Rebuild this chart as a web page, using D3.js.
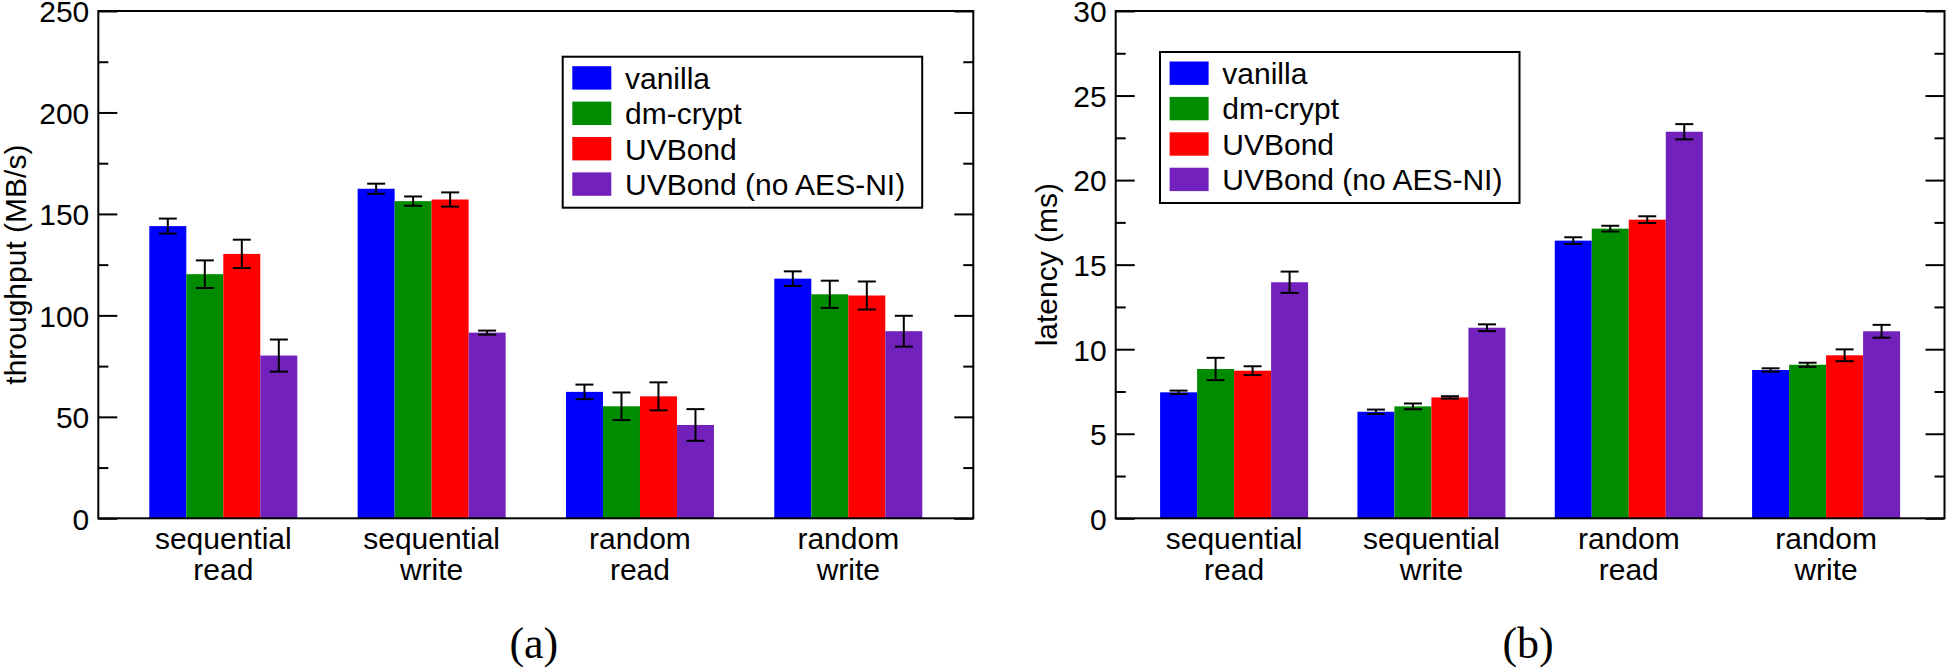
<!DOCTYPE html>
<html><head><meta charset="utf-8">
<script src="https://cdn.jsdelivr.net/npm/d3@7"></script>
<style>
html,body{margin:0;padding:0;background:#fff;}
svg{display:block;}
text{font-family:"Liberation Sans",Arial,Helvetica,sans-serif;fill:#000;}
</style></head>
<body>
<svg id="chart" width="1946" height="671"></svg>
<script>
// ---- data ----
const categories = [["sequential","read"],["sequential","write"],["random","read"],["random","write"]];
const seriesNames = ["vanilla","dm-crypt","UVBond","UVBond (no AES-NI)"];
const seriesColors = ["#0000ff","#008b00","#ff0000","#7221bc"];

const throughputValues = [
  [144.0, 162.4, 62.3, 118.1],
  [120.3, 156.3, 55.2, 110.4],
  [130.3, 157.1, 60.1, 109.8],
  [80.2, 91.5, 46.0, 92.2]
];
const throughputErrors = [
  [3.7, 2.5, 3.6, 3.6],
  [6.8, 2.3, 6.8, 6.7],
  [7.0, 3.5, 6.9, 6.9],
  [7.9, 1.0, 7.8, 7.6]
];
const latencyValues = [
  [7.45, 6.30, 16.42, 8.77],
  [8.83, 6.62, 17.13, 9.08],
  [8.73, 7.15, 17.66, 9.64],
  [13.96, 11.27, 22.86, 11.06]
];
const latencyErrors = [
  [0.10, 0.13, 0.20, 0.10],
  [0.66, 0.17, 0.17, 0.12],
  [0.26, 0.07, 0.20, 0.35],
  [0.63, 0.20, 0.45, 0.38]
];
const throughputTicks = [0, 50, 100, 150, 200, 250];
const latencyTicks = [0, 5, 10, 15, 20, 25, 30];

// ---- drawing ----
const svg = d3.select("#chart");
const FONT = 30;

function drawPanel(opt) {
  const g = svg.append("g");
  const x = d3.scaleLinear().domain([0.4, 4.6]).range([opt.left, opt.right]);
  const y = d3.scaleLinear().domain(opt.yDomain).range([opt.bottom, opt.top]);
  const barW = 37;
  const nS = seriesNames.length;

  // bars
  seriesNames.forEach((s, si) => {
    const data = categories.map((c, ci) => ({ci, v: opt.values[si][ci], e: opt.errors[si][ci]}));
    const off = (si - (nS - 1) / 2) * barW;
    g.append("g").selectAll("rect").data(data).join("rect")
      .attr("x", d => x(d.ci + 1) + off - barW / 2)
      .attr("width", barW)
      .attr("y", d => y(d.v))
      .attr("height", d => y(0) - y(d.v))
      .attr("fill", seriesColors[si]);
    const eg = g.append("g").attr("stroke", "#000").attr("stroke-width", 2);
    data.forEach(d => {
      const cx = x(d.ci + 1) + off;
      eg.append("line").attr("x1", cx).attr("x2", cx).attr("y1", y(d.v - d.e)).attr("y2", y(d.v + d.e));
      eg.append("line").attr("x1", cx - 9).attr("x2", cx + 9).attr("y1", y(d.v + d.e)).attr("y2", y(d.v + d.e));
      eg.append("line").attr("x1", cx - 9).attr("x2", cx + 9).attr("y1", y(d.v - d.e)).attr("y2", y(d.v - d.e));
    });
  });

  // axes ticks (inward, both sides)
  const minorVals = d3.range(opt.yDomain[0], opt.yDomain[1] + 1e-9, opt.minorStep)
    .filter(v => !opt.ticks.some(t => Math.abs(t - v) < 1e-9));
  const addAxis = (axisFn, xpos, vals, size) => {
    const a = g.append("g").attr("transform", `translate(${xpos},0)`)
      .call(axisFn(y).tickValues(vals).tickSize(size).tickFormat(""));
    a.select(".domain").remove();
    a.selectAll(".tick line").attr("stroke", "#000").attr("stroke-width", 2);
    return a;
  };
  // left major labels
  const la = g.append("g").attr("transform", `translate(${opt.left},0)`)
    .call(d3.axisLeft(y).tickValues(opt.ticks).tickSize(0).tickPadding(9).tickFormat(d3.format("d")));
  la.select(".domain").remove();
  la.selectAll(".tick text").attr("font-size", FONT).attr("font-family", "Liberation Sans, Arial, sans-serif")
    .attr("fill", "#000").attr("dy", "0.36em");
  la.selectAll(".tick line").remove();
  addAxis(d3.axisRight, opt.left, opt.ticks, 19);
  addAxis(d3.axisRight, opt.left, minorVals, 10);
  addAxis(d3.axisLeft, opt.right, opt.ticks, 19);
  addAxis(d3.axisLeft, opt.right, minorVals, 10);

  // frame
  g.append("rect").attr("x", opt.left).attr("y", opt.top)
    .attr("width", opt.right - opt.left).attr("height", opt.bottom - opt.top)
    .attr("fill", "none").attr("stroke", "#000").attr("stroke-width", 2);

  // category labels
  categories.forEach((c, ci) => {
    c.forEach((line, li) => {
      g.append("text").attr("x", x(ci + 1)).attr("y", opt.bottom + 31 + li * 30.5)
        .attr("text-anchor", "middle").attr("font-size", FONT).text(line);
    });
  });

  // y label
  g.append("text")
    .attr("transform", `translate(${opt.yLabelX},${(opt.top + opt.bottom) / 2}) rotate(-90)`)
    .attr("text-anchor", "middle").attr("font-size", FONT).text(opt.yLabel);

  // legend
  const L = opt.legend;
  g.append("rect").attr("x", L.x).attr("y", L.y).attr("width", 359.5).attr("height", 151)
    .attr("fill", "#fff").attr("stroke", "#000").attr("stroke-width", 2);
  seriesNames.forEach((s, si) => {
    const sy = L.y + 9.5 + si * 35.4;
    g.append("rect").attr("x", L.x + 9.6).attr("y", sy).attr("width", 39).attr("height", 23.4)
      .attr("fill", seriesColors[si]);
    g.append("text").attr("x", L.x + 62.3).attr("y", sy + 11.7 + 10.8)
      .attr("font-size", FONT).text(s);
  });

  // caption
  svg.append("text").attr("x", (opt.left + opt.right) / 2 - 2).attr("y", 658)
    .attr("text-anchor", "middle").attr("font-size", 44)
    .style("font-family", "'Liberation Serif','Times New Roman',serif").text(opt.caption);
}

drawPanel({
  left: 98.3, right: 973.3, top: 11, bottom: 518.3,
  yDomain: [0, 250], ticks: throughputTicks, minorStep: 25,
  values: throughputValues, errors: throughputErrors,
  yLabel: "throughput (MB/s)", yLabelX: 26,
  legend: {x: 562.7, y: 56.7}, caption: "(a)"
});
drawPanel({
  left: 1115.7, right: 1944.5, top: 11, bottom: 518.3,
  yDomain: [0, 30], ticks: latencyTicks, minorStep: 2.5,
  values: latencyValues, errors: latencyErrors,
  yLabel: "latency (ms)", yLabelX: 1057,
  legend: {x: 1160, y: 52}, caption: "(b)"
});
</script>
</body></html>
